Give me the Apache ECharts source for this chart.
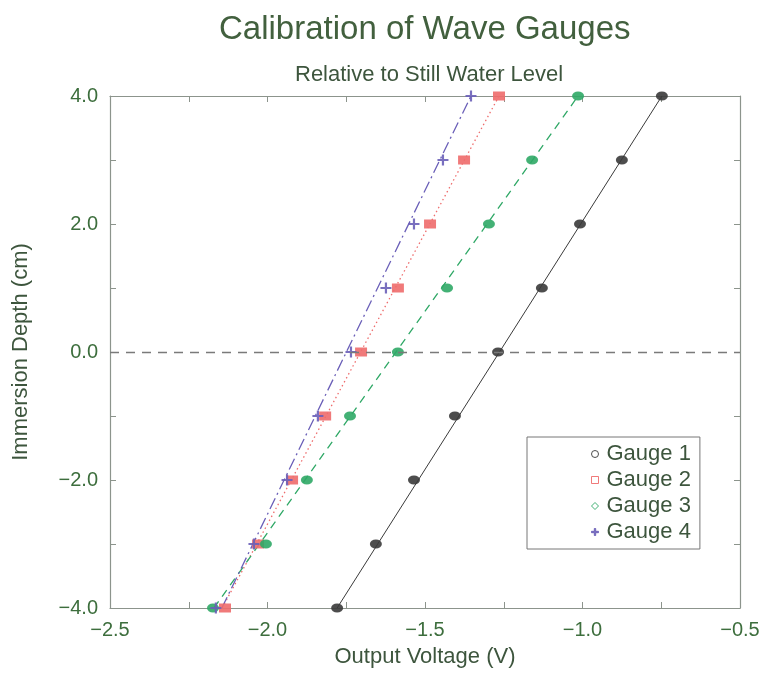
<!DOCTYPE html>
<html>
<head>
<meta charset="utf-8">
<title>Calibration of Wave Gauges</title>
<script src="https://cdn.jsdelivr.net/npm/echarts@6/dist/echarts.min.js"></script>
<style>
  html, body { margin: 0; padding: 0; background: #ffffff; }
  #chart { width: 765px; height: 673px; }
</style>
</head>
<body>
<div id="chart"></div>
<script>
// Immersion depths (cm) at which each gauge was read
const depths = [4, 3, 2, 1, 0, -1, -2, -3, -4];

// Output voltage (V) of each gauge at the depths above
const gauge1 = [-0.748, -0.875, -1.008, -1.129, -1.268, -1.405, -1.535, -1.656, -1.779];
const gauge2 = [-1.265, -1.376, -1.484, -1.586, -1.703, -1.817, -1.922, -2.030, -2.135];
const gauge3 = [-1.014, -1.160, -1.297, -1.430, -1.586, -1.738, -1.875, -2.005, -2.173];
const gauge4 = [-1.354, -1.443, -1.535, -1.624, -1.735, -1.840, -1.938, -2.043, -2.164];

// Straight calibration lines: voltage at the bottom (-4 cm) and top (+4 cm)
const fitDepths = [-4, 4];
const fit1 = [-1.779, -0.748];
const fit2 = [-2.144, -1.265];
const fit3 = [-2.170, -1.014];
const fit4 = [-2.145, -1.354];

const gaugeNames = ['Gauge 1', 'Gauge 2', 'Gauge 3', 'Gauge 4'];

// Axis ticks
const xTicks = [-2.5, -2.0, -1.5, -1.0, -0.5];
const yTicks = [-4.0, -2.0, 0.0, 2.0, 4.0];

const colors = ['#3a3a3a', '#ee6c6c', '#2fa866', '#6a5fb8'];
const lineTypes = ['solid', [1.5, 3], [8, 6], [12, 4, 2, 4]];
const plusPath = 'path://M4,0H6V4H10V6H6V10H4V6H0V4H4Z';
const symbols = ['circle', 'rect', 'circle', plusPath];
const symbolSizes = [[12, 9], [12, 9], [12, 9], [11, 11]];
const legendIcons = ['circle', 'rect', 'diamond', plusPath];

const allValues = [gauge1, gauge2, gauge3, gauge4];
const allFits = [fit1, fit2, fit3, fit4];

const textColor = '#3d553d';
const tickColor = '#3d6e3d';
const frameColor = '#8c948c';
const font = '"Liberation Sans", Arial, Helvetica, sans-serif';

const series = [];
allFits.forEach(function (fit, i) {
  series.push({
    type: 'line',
    data: fitDepths.map(function (d, k) { return [fit[k], d]; }),
    showSymbol: false,
    silent: true,
    z: 2,
    lineStyle: { color: colors[i], width: i === 0 ? 1 : 1.3, type: lineTypes[i] }
  });
});
allValues.forEach(function (vals, i) {
  series.push({
    name: gaugeNames[i],
    type: 'scatter',
    data: vals.map(function (v, k) { return [v, depths[k]]; }),
    symbol: symbols[i],
    symbolSize: symbolSizes[i],
    z: 3,
    itemStyle: { color: colors[i], opacity: 0.9 }
  });
});
// Still water level reference
series[0].markLine = {
  silent: true,
  symbol: 'none',
  label: { show: false },
  lineStyle: { color: '#7a7a7a', type: [9, 7], width: 1.3 },
  data: [{ yAxis: 0 }]
};

const axisCommon = {
  axisLine: { show: true, onZero: false, lineStyle: { color: frameColor, width: 1.2 } },
  axisTick: { show: true, inside: true, length: 6, lineStyle: { color: frameColor } },
  minorTick: { show: true, splitNumber: 2, length: 6, lineStyle: { color: frameColor } },
  splitLine: { show: false }
};

const chart = echarts.init(document.getElementById('chart'), null, { renderer: 'canvas' });
chart.setOption({
  backgroundColor: '#ffffff',
  animation: false,
  title: [
    { text: 'Calibration of Wave Gauges', left: 214, top: 8,
      textStyle: { fontFamily: font, fontSize: 33, fontWeight: 'normal', color: '#42603e' } },
    { text: 'Relative to Still Water Level', left: 290, top: 59,
      textStyle: { fontFamily: font, fontSize: 22, fontWeight: 'normal', color: textColor } }
  ],
  grid: { left: 110, right: 25, top: 96, bottom: 64 },
  legend: {
    orient: 'vertical',
    left: 527,
    top: 437,
    width: 173,
    align: 'left',
    padding: [6, 9, 6, 64],
    itemGap: 4,
    itemWidth: 7,
    itemHeight: 7,
    borderColor: '#777777',
    borderWidth: 1,
    textStyle: { fontFamily: font, fontSize: 22, color: textColor, padding: [0, 0, 0, 3] },
    data: gaugeNames.map(function (n, i) {
      return { name: n, icon: legendIcons[i],
        itemStyle: { color: i === 3 ? colors[i] : 'rgba(255,255,255,0)', borderColor: colors[i], borderWidth: 1 } };
    })
  },
  xAxis: [
    Object.assign({}, axisCommon, {
      type: 'value', min: -2.5, max: -0.5, interval: 0.5, position: 'bottom',
      name: 'Output Voltage (V)', nameLocation: 'middle', nameGap: 38,
      nameTextStyle: { fontFamily: font, fontSize: 22, color: textColor },
      axisLabel: { margin: 12, fontFamily: font, fontSize: 20, color: tickColor,
        formatter: function (v) { return xTicks.indexOf(v) >= 0 ? v.toFixed(1).replace('-', '\u2212') : ''; } }
    }),
    Object.assign({}, axisCommon, {
      type: 'value', min: -2.5, max: -0.5, interval: 0.5, position: 'top',
      axisLabel: { show: false }
    })
  ],
  yAxis: [
    Object.assign({}, axisCommon, {
      type: 'value', min: -4, max: 4, interval: 2, position: 'left',
      name: 'Immersion Depth (cm)', nameLocation: 'middle', nameGap: 78, nameRotate: 90,
      nameTextStyle: { fontFamily: font, fontSize: 22, color: textColor },
      axisLabel: { margin: 12, fontFamily: font, fontSize: 20, color: tickColor,
        formatter: function (v) { return yTicks.indexOf(v) >= 0 ? v.toFixed(1).replace('-', '\u2212') : ''; } }
    }),
    Object.assign({}, axisCommon, {
      type: 'value', min: -4, max: 4, interval: 2, position: 'right',
      axisLabel: { show: false }
    })
  ],
  series: series
});
</script>
</body>
</html>
